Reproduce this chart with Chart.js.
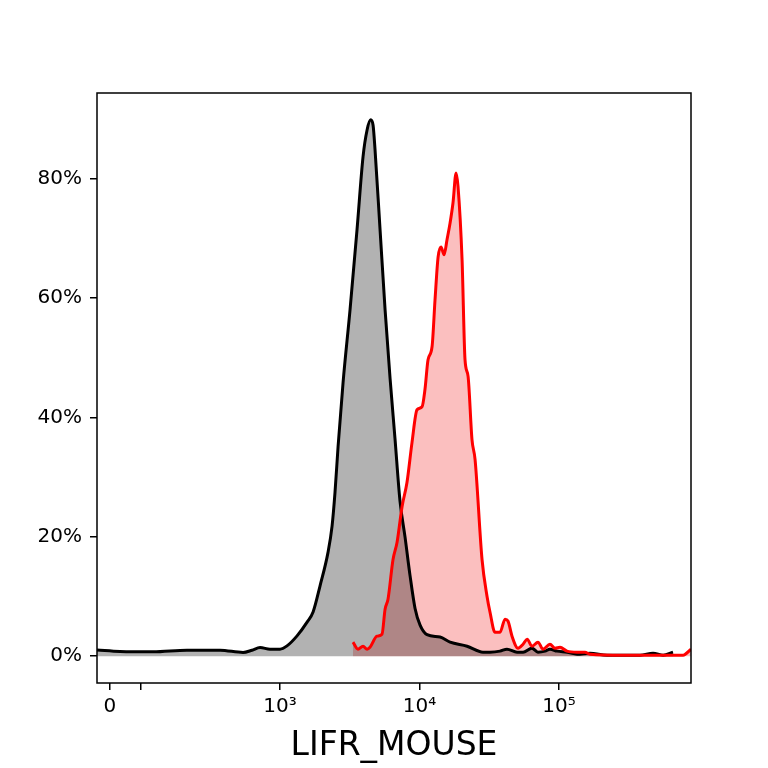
<!DOCTYPE html>
<html>
<head>
<meta charset="utf-8">
<script src="https://cdn.jsdelivr.net/npm/chart.js@4/dist/chart.umd.min.js"></script>
<style>
html,body{margin:0;padding:0;background:#fff;}
canvas{display:block;}
</style>
</head>
<body>
<canvas id="c" width="768" height="768"></canvas>
<script>
// x values are positions on the logicle-like axis (in decades: 3 = 10^3, 4 = 10^4 ...)
const controlX = [1.688,1.853,2.090,2.333,2.570,2.735,2.799,2.857,2.928,3.000,3.050,3.122,3.194,3.237,3.287,3.344,3.373,3.394,3.416,3.452,3.502,3.552,3.595,3.624,3.650,3.667,3.681,3.717,3.753,3.789,3.824,3.860,3.896,3.932,3.968,4.004,4.054,4.147,4.219,4.341,4.455,4.505,4.577,4.627,4.699,4.742,4.806,4.849,4.900,4.935,4.986,5.057,5.129,5.222,5.344,5.581,5.674,5.746,5.817];
const controlPct = [1.05,0.79,0.72,1.0,1.0,0.62,1.0,1.45,1.17,1.17,1.72,3.4,5.7,7.4,11.8,17.4,21.8,27.4,35.1,45.9,58.1,71.5,83.7,88.2,89.9,89.0,84.9,71.5,58.1,46.5,36.5,26.0,20.0,13.5,8.0,5.2,3.6,3.2,2.34,1.67,0.67,0.67,0.84,1.17,0.67,0.67,1.34,0.67,0.84,1.17,0.84,0.67,0.33,0.5,0.17,0.17,0.5,0.17,0.67];

const sampleX = [3.523,3.559,3.595,3.624,3.645,3.695,3.731,3.753,3.774,3.810,3.839,3.875,3.910,3.946,3.982,4.018,4.039,4.061,4.090,4.111,4.133,4.154,4.176,4.197,4.219,4.240,4.262,4.276,4.305,4.326,4.348,4.376,4.398,4.448,4.484,4.505,4.541,4.577,4.613,4.634,4.663,4.706,4.742,4.771,4.806,4.849,4.885,4.935,4.971,5.007,5.057,5.129,5.186,5.222,5.459,5.703,5.889,5.946];
const samplePct = [2.34,1.17,1.67,1.17,1.5,3.35,3.68,7.87,9.54,16.2,19.1,25.1,29.1,35.8,41.3,41.8,44.7,49.7,51.9,59.7,66.9,68.6,67.3,69.8,72.6,76.0,81.0,78.7,66.4,49.7,46.9,36.3,33.0,16.2,10.0,7.4,4.0,4.0,6.2,5.9,3.35,1.34,2.0,2.85,1.67,2.34,1.17,2.0,1.34,1.5,0.84,0.67,0.67,0.33,0.17,0.17,0.17,1.17];

const xTickPos = [1.781, 2.0, 3, 4, 5];
const xTickLabels = ['0', '', '10³', '10⁴', '10⁵'];
const yTickPos = [0, 20, 40, 60, 80];
const xTitle = 'LIFR_MOUSE';

const toPts = (xs, ys) => xs.map((x, i) => ({x: x, y: ys[i]}));

Chart.defaults.font.family = 'DejaVu Sans';
Chart.defaults.color = '#000';

const boxPlugin = {
  id: 'box',
  afterDatasetsDraw(chart) {
    const a = chart.chartArea, ctx = chart.ctx;
    ctx.save();
    ctx.strokeStyle = '#000';
    ctx.lineWidth = 1.5;
    ctx.strokeRect(a.left, a.top, a.right - a.left, a.bottom - a.top);
    ctx.restore();
  }
};

new Chart(document.getElementById('c'), {
  type: 'line',
  data: {
    datasets: [
      {
        data: toPts(sampleX, samplePct),
        borderColor: '#ff0000', borderWidth: 3, fill: false,
        pointRadius: 0, cubicInterpolationMode: 'monotone', order: 0
      },
      {
        data: toPts(controlX, controlPct),
        borderColor: '#000000', borderWidth: 3,
        backgroundColor: 'rgba(0,0,0,0.3)', fill: 'origin',
        pointRadius: 0, cubicInterpolationMode: 'monotone', order: 1
      },
      {
        data: toPts(sampleX, samplePct),
        borderWidth: 0, borderColor: 'rgba(0,0,0,0)',
        backgroundColor: 'rgba(240,0,0,0.25)', fill: 'origin',
        pointRadius: 0, cubicInterpolationMode: 'monotone', order: 2
      }
    ]
  },
  options: {
    responsive: false,
    animation: false,
    devicePixelRatio: 1,
    layout: {padding: {top: 93, right: 77, left: 0, bottom: 0}},
    plugins: {legend: {display: false}, tooltip: {enabled: false}},
    scales: {
      x: {
        type: 'linear', min: 1.688, max: 5.946,
        afterBuildTicks: s => { s.ticks = xTickPos.map(v => ({value: v})); },
        afterFit: s => { s.height = 85; },
        ticks: {
          autoSkip: false, maxRotation: 0, padding: 5,
          font: {size: 20},
          callback: (v, i) => xTickLabels[i]
        },
        grid: {drawOnChartArea: false, drawTicks: true, tickLength: 7, color: '#000', lineWidth: 1.5},
        border: {display: false},
        title: {display: true, text: xTitle, font: {size: 33, lineHeight: 1.2}, padding: {top: 0, bottom: 2}}
      },
      y: {
        type: 'linear', min: -4.5, max: 94.4,
        afterBuildTicks: s => { s.ticks = yTickPos.map(v => ({value: v})); },
        afterFit: s => { s.width = 97; },
        ticks: {padding: 8, font: {size: 20}, callback: v => v + '%'},
        grid: {drawOnChartArea: false, drawTicks: true, tickLength: 7, color: '#000', lineWidth: 1.5},
        border: {display: false}
      }
    }
  },
  plugins: [boxPlugin]
});
</script>
</body>
</html>
